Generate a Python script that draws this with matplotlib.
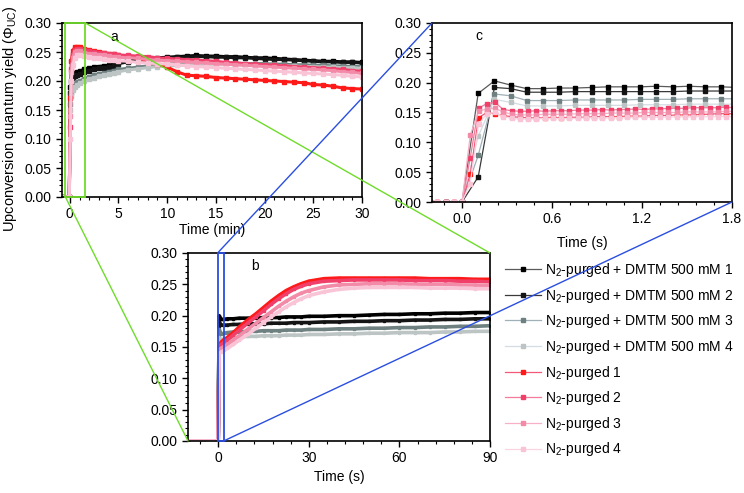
import numpy as np
import matplotlib
matplotlib.use('Agg')
import matplotlib.pyplot as plt
from matplotlib.patches import Rectangle, ConnectionPatch
from matplotlib.ticker import MultipleLocator, FormatStrFormatter

plt.rcParams['font.family'] = ['Liberation Sans', 'DejaVu Sans']
plt.rcParams['mathtext.default'] = 'regular'
plt.rcParams['font.size'] = 10

# ---------------- data ----------------
labels = [
    "N$_2$-purged + DMTM 500 mM 1",
    "N$_2$-purged + DMTM 500 mM 2",
    "N$_2$-purged + DMTM 500 mM 3",
    "N$_2$-purged + DMTM 500 mM 4",
    "N$_2$-purged 1",
    "N$_2$-purged 2",
    "N$_2$-purged 3",
    "N$_2$-purged 4",
]

# panel a: time in minutes
t_a = [-0.8, -0.05, 0.05, 0.15, 0.3, 0.5, 0.75, 1, 1.5, 2,
       2.5, 3, 3.5, 4, 4.5, 5, 6, 7, 8, 9,
       10, 11, 12, 13, 14, 15, 16, 17, 18, 19,
       20, 21, 22, 23, 24, 25, 26, 27, 28, 29, 30]
ya_dmtm1 = [0, 0, 0.19, 0.20, 0.21, 0.213, 0.215, 0.217, 0.22, 0.222,
            0.224, 0.225, 0.226, 0.227, 0.228, 0.232, 0.235, 0.236, 0.238, 0.240,
            0.241, 0.242, 0.243, 0.244, 0.243, 0.243, 0.242, 0.242, 0.241, 0.240,
            0.240, 0.239, 0.238, 0.237, 0.236, 0.235, 0.234, 0.234, 0.233, 0.233, 0.232]
ya_dmtm2 = [0, 0, 0.18, 0.19, 0.205, 0.208, 0.21, 0.212, 0.215, 0.218,
            0.220, 0.222, 0.223, 0.224, 0.226, 0.230, 0.233, 0.235, 0.237, 0.238,
            0.240, 0.241, 0.241, 0.242, 0.242, 0.241, 0.241, 0.240, 0.240, 0.239,
            0.238, 0.237, 0.237, 0.236, 0.235, 0.234, 0.233, 0.233, 0.232, 0.232, 0.231]
ya_dmtm3 = [0, 0, 0.16, 0.18, 0.19, 0.195, 0.198, 0.20, 0.204, 0.207,
            0.210, 0.212, 0.214, 0.216, 0.218, 0.220, 0.222, 0.224, 0.226, 0.228,
            0.229, 0.230, 0.231, 0.231, 0.232, 0.232, 0.231, 0.231, 0.230, 0.230,
            0.230, 0.229, 0.229, 0.228, 0.228, 0.227, 0.227, 0.226, 0.226, 0.225, 0.225]
ya_dmtm4 = [0, 0, 0.15, 0.175, 0.185, 0.19, 0.193, 0.196, 0.20, 0.203,
            0.206, 0.208, 0.210, 0.212, 0.214, 0.216, 0.219, 0.221, 0.223, 0.225,
            0.226, 0.227, 0.228, 0.228, 0.229, 0.229, 0.229, 0.228, 0.228, 0.228,
            0.227, 0.227, 0.226, 0.226, 0.225, 0.225, 0.224, 0.224, 0.223, 0.223, 0.222]
ya_n2_1 = [0, 0, 0.17, 0.235, 0.252, 0.258, 0.259, 0.258, 0.256, 0.253,
           0.252, 0.250, 0.249, 0.247, 0.246, 0.244, 0.242, 0.239, 0.234, 0.229,
           0.224, 0.216, 0.210, 0.209, 0.208, 0.206, 0.205, 0.204, 0.203, 0.202,
           0.201, 0.200, 0.199, 0.198, 0.197, 0.194, 0.193, 0.191, 0.188, 0.187, 0.186]
ya_n2_2 = [0, 0, 0.12, 0.22, 0.245, 0.254, 0.256, 0.255, 0.253, 0.251,
           0.250, 0.249, 0.248, 0.247, 0.246, 0.245, 0.244, 0.243, 0.242, 0.240,
           0.239, 0.238, 0.237, 0.236, 0.235, 0.234, 0.232, 0.231, 0.230, 0.229,
           0.228, 0.227, 0.226, 0.225, 0.224, 0.223, 0.222, 0.221, 0.220, 0.218, 0.217]
ya_n2_3 = [0, 0, 0.14, 0.215, 0.24, 0.25, 0.252, 0.251, 0.249, 0.247,
           0.246, 0.245, 0.244, 0.243, 0.242, 0.241, 0.240, 0.239, 0.237, 0.236,
           0.235, 0.234, 0.233, 0.232, 0.231, 0.230, 0.229, 0.228, 0.227, 0.226,
           0.225, 0.224, 0.223, 0.222, 0.221, 0.220, 0.219, 0.218, 0.216, 0.215, 0.213]
ya_n2_4 = [0, 0, 0.10, 0.20, 0.228, 0.24, 0.244, 0.244, 0.243, 0.241,
           0.240, 0.239, 0.238, 0.237, 0.236, 0.235, 0.234, 0.232, 0.231, 0.230,
           0.229, 0.228, 0.226, 0.225, 0.224, 0.223, 0.222, 0.221, 0.220, 0.219,
           0.218, 0.217, 0.216, 0.215, 0.214, 0.213, 0.212, 0.211, 0.210, 0.208, 0.207]

# panel b: time in seconds
t_b = [-10, -5, -0.5, 0, 0.3, 1, 2, 3, 5, 7,
       10, 12.5, 15, 17.5, 20, 22.5, 25, 27.5, 30, 35,
       40, 45, 50, 55, 60, 65, 70, 75, 80, 85, 90]
yb_dmtm1 = [0, 0, 0, 0, 0.20, 0.194, 0.194, 0.195, 0.195, 0.196,
            0.196, 0.196, 0.197, 0.197, 0.197, 0.198, 0.198, 0.198, 0.199, 0.199,
            0.200, 0.200, 0.201, 0.202, 0.202, 0.203, 0.203, 0.204, 0.204, 0.205, 0.205]
yb_dmtm2 = [0, 0, 0, 0, 0.19, 0.185, 0.185, 0.185, 0.186, 0.186,
            0.187, 0.187, 0.187, 0.188, 0.188, 0.188, 0.189, 0.189, 0.189, 0.190,
            0.190, 0.191, 0.191, 0.192, 0.192, 0.193, 0.193, 0.194, 0.194, 0.195, 0.195]
yb_dmtm3 = [0, 0, 0, 0, 0.178, 0.171, 0.172, 0.173, 0.174, 0.174,
            0.175, 0.175, 0.176, 0.176, 0.176, 0.177, 0.177, 0.177, 0.178, 0.178,
            0.179, 0.179, 0.180, 0.180, 0.181, 0.181, 0.182, 0.182, 0.183, 0.183, 0.184]
yb_dmtm4 = [0, 0, 0, 0, 0.165, 0.162, 0.163, 0.164, 0.165, 0.166,
            0.167, 0.167, 0.168, 0.168, 0.168, 0.169, 0.169, 0.169, 0.170, 0.170,
            0.171, 0.171, 0.172, 0.172, 0.173, 0.173, 0.173, 0.174, 0.174, 0.175, 0.175]
yb_n2_1 = [0, 0, 0, 0, 0.150, 0.158, 0.162, 0.165, 0.173, 0.182,
           0.194, 0.203, 0.213, 0.223, 0.232, 0.240, 0.246, 0.251, 0.255, 0.259,
           0.260, 0.260, 0.260, 0.260, 0.260, 0.260, 0.259, 0.259, 0.259, 0.258, 0.258]
yb_n2_2 = [0, 0, 0, 0, 0.152, 0.154, 0.158, 0.161, 0.169, 0.177,
           0.189, 0.198, 0.208, 0.218, 0.227, 0.235, 0.242, 0.247, 0.251, 0.255,
           0.256, 0.257, 0.257, 0.257, 0.257, 0.256, 0.256, 0.256, 0.255, 0.255, 0.254]
yb_n2_3 = [0, 0, 0, 0, 0.146, 0.148, 0.151, 0.154, 0.161, 0.168,
           0.179, 0.188, 0.197, 0.206, 0.215, 0.223, 0.230, 0.236, 0.240, 0.246,
           0.249, 0.250, 0.251, 0.251, 0.251, 0.250, 0.250, 0.250, 0.249, 0.249, 0.248]
yb_n2_4 = [0, 0, 0, 0, 0.140, 0.142, 0.145, 0.148, 0.154, 0.161,
           0.171, 0.180, 0.189, 0.198, 0.206, 0.214, 0.221, 0.227, 0.232, 0.238,
           0.242, 0.244, 0.245, 0.245, 0.245, 0.245, 0.244, 0.244, 0.244, 0.243, 0.243]

# panel c: time in seconds (DMTM samples every ~0.108 s, N2 every ~0.055 s)
tc_dmtm = [-0.216, -0.108, 0.0, 0.108, 0.216, 0.324, 0.432, 0.54, 0.648, 0.756,
           0.864, 0.972, 1.08, 1.188, 1.296, 1.404, 1.512, 1.62, 1.728, 1.836]
yc_dmtm1 = [0, 0, 0, 0.182, 0.203, 0.196, 0.190, 0.190, 0.191, 0.191,
            0.192, 0.193, 0.193, 0.193, 0.194, 0.193, 0.194, 0.193, 0.193, 0.192]
yc_dmtm2 = [0, 0, 0, 0.042, 0.192, 0.190, 0.184, 0.184, 0.184, 0.185,
            0.185, 0.185, 0.185, 0.185, 0.185, 0.185, 0.186, 0.186, 0.186, 0.186]
yc_dmtm3 = [0, 0, 0, 0.078, 0.181, 0.178, 0.170, 0.170, 0.170, 0.171,
            0.171, 0.171, 0.171, 0.172, 0.172, 0.172, 0.173, 0.173, 0.173, 0.173]
yc_dmtm4 = [0, 0, 0, 0.110, 0.172, 0.167, 0.161, 0.161, 0.161, 0.162,
            0.162, 0.162, 0.162, 0.163, 0.163, 0.163, 0.164, 0.164, 0.164, 0.164]
tc_n2 = [-0.165, -0.11, -0.055, 0.0, 0.055, 0.11, 0.165, 0.22, 0.275, 0.33,
         0.385, 0.44, 0.495, 0.55, 0.605, 0.66, 0.715, 0.77, 0.825, 0.88,
         0.935, 0.99, 1.045, 1.1, 1.155, 1.21, 1.265, 1.32, 1.375, 1.43,
         1.485, 1.54, 1.595, 1.65, 1.705, 1.76, 1.815]
yc_n2_1 = [0, 0, 0, 0, 0.047, 0.141, 0.150, 0.148, 0.145, 0.143,
           0.142, 0.141, 0.141, 0.141, 0.142, 0.141, 0.142, 0.142, 0.142, 0.143,
           0.143, 0.143, 0.143, 0.144, 0.144, 0.144, 0.145, 0.145, 0.145, 0.146,
           0.146, 0.146, 0.147, 0.147, 0.148, 0.148, 0.148]
yc_n2_2 = [0, 0, 0, 0, 0.074, 0.157, 0.165, 0.167, 0.155, 0.153,
           0.152, 0.152, 0.153, 0.152, 0.153, 0.153, 0.153, 0.154, 0.154, 0.154,
           0.155, 0.154, 0.155, 0.155, 0.156, 0.155, 0.156, 0.156, 0.157, 0.157,
           0.157, 0.158, 0.158, 0.158, 0.158, 0.159, 0.158]
yc_n2_3 = [0, 0, 0, 0, 0.112, 0.152, 0.156, 0.157, 0.151, 0.147,
           0.146, 0.146, 0.146, 0.147, 0.147, 0.147, 0.147, 0.148, 0.148, 0.148,
           0.148, 0.149, 0.149, 0.149, 0.149, 0.150, 0.150, 0.150, 0.150, 0.150,
           0.151, 0.151, 0.151, 0.151, 0.151, 0.152, 0.152]
yc_n2_4 = [0, 0, 0, 0, 0.031, 0.130, 0.148, 0.150, 0.143, 0.140,
           0.139, 0.139, 0.139, 0.140, 0.140, 0.140, 0.140, 0.140, 0.141, 0.141,
           0.141, 0.141, 0.141, 0.142, 0.142, 0.142, 0.142, 0.142, 0.142, 0.143,
           0.143, 0.143, 0.143, 0.143, 0.143, 0.143, 0.143]

# ---------------- styles ----------------
marker_colors = ['#000000', '#141414', '#6e8080', '#bcc4c4',
                 '#ff1a1a', '#f0406a', '#f28aa8', '#f8c4d6']
line_colors = ['#5a5a5a', '#3a3a3a', '#9fb0b8', '#d4dce4',
               '#f05a78', '#f27c9c', '#f7b0c6', '#fad4e2']
green = '#6fdc2a'
blue = '#2a4ee0'

data_a = [ya_dmtm1, ya_dmtm2, ya_dmtm3, ya_dmtm4, ya_n2_1, ya_n2_2, ya_n2_3, ya_n2_4]
data_b = [yb_dmtm1, yb_dmtm2, yb_dmtm3, yb_dmtm4, yb_n2_1, yb_n2_2, yb_n2_3, yb_n2_4]
data_c = [yc_dmtm1, yc_dmtm2, yc_dmtm3, yc_dmtm4, yc_n2_1, yc_n2_2, yc_n2_3, yc_n2_4]
times_c = [tc_dmtm] * 4 + [tc_n2] * 4

W, H = 744, 493
fig = plt.figure(figsize=(W / 100, H / 100), dpi=100)
ax_a = fig.add_axes([62 / W, 1 - 197 / H, 300 / W, 174 / H])
ax_c = fig.add_axes([432 / W, 1 - 202 / H, 300 / W, 179 / H])
ax_b = fig.add_axes([188 / W, 1 - 441 / H, 302 / W, 188 / H])


def style(ax):
    for s in ax.spines.values():
        s.set_linewidth(1.2)
    ax.tick_params(which='major', direction='out', length=4, width=1, labelsize=10,
                   top=False, right=False)
    ax.tick_params(which='minor', direction='out', length=2.5, width=0.8,
                   top=False, right=False)
    ax.set_ylim(0, 0.30)
    ax.yaxis.set_major_locator(MultipleLocator(0.05))
    ax.yaxis.set_minor_locator(MultipleLocator(0.01))
    ax.yaxis.set_major_formatter(FormatStrFormatter('%.2f'))


for i in range(8):
    ax_a.plot(t_a, data_a[i], color=marker_colors[i], lw=2.2, marker='s', ms=2.2,
              mec=marker_colors[i], mfc=marker_colors[i])
    ax_b.plot(t_b, data_b[i], color=marker_colors[i], lw=2.6, marker='s', ms=2.0,
              mec=marker_colors[i], mfc=marker_colors[i])

handles = []
for i in range(8):
    h, = ax_c.plot(times_c[i], data_c[i], color=line_colors[i], lw=0.9, marker='s',
                   ms=3, mec=marker_colors[i], mfc=marker_colors[i], label=labels[i])
    handles.append(h)

style(ax_a)
ax_a.set_xlim(-0.8, 30)
ax_a.xaxis.set_major_locator(MultipleLocator(5))
ax_a.xaxis.set_minor_locator(MultipleLocator(1))
ax_a.set_xlabel('Time (min)', labelpad=1)
ax_a.set_ylabel('Upconversion quantum yield (\u03a6$_{UC}$)', fontsize=10.5)
ax_a.yaxis.set_label_coords(-0.142, 0.45)
ax_a.text(4.6, 0.276, 'a', fontsize=10, ha='center', va='center')

style(ax_b)
ax_b.set_xlim(-10, 90)
ax_b.xaxis.set_major_locator(MultipleLocator(30))
ax_b.xaxis.set_minor_locator(MultipleLocator(6))
ax_b.set_xlabel('Time (s)', labelpad=3)
ax_b.text(12.3, 0.279, 'b', fontsize=10, ha='center', va='center')

style(ax_c)
ax_c.set_xlim(-0.2, 1.8)
ax_c.xaxis.set_major_locator(MultipleLocator(0.6))
ax_c.xaxis.set_minor_locator(MultipleLocator(0.12))
ax_c.xaxis.set_major_formatter(FormatStrFormatter('%.1f'))
ax_c.set_xlabel('Time (s)', labelpad=7)
ax_c.text(0.113, 0.278, 'c', fontsize=10, ha='center', va='center')

# zoom rectangles
ax_a.add_patch(Rectangle((-0.45, 0), 2.05, 0.30, fill=False, ec=green, lw=1.3,
                         clip_on=False, zorder=5))
ax_b.add_patch(Rectangle((-0.2, 0), 2.0, 0.30, fill=False, ec=blue, lw=1.3,
                         clip_on=False, zorder=5))

# connector lines
for xyA, xyB in [((1.6, 0.30), (90, 0.30)), ((-0.45, 0.0), (-10, 0.0))]:
    con = ConnectionPatch(xyA=xyA, coordsA=ax_a.transData, xyB=xyB, coordsB=ax_b.transData,
                          color=green, lw=1.0, zorder=10)
    fig.add_artist(con)
for xyA, xyB in [((-0.2, 0.30), (-0.2, 0.30)), ((1.8, 0.0), (1.8, 0.0))]:
    con = ConnectionPatch(xyA=xyA, coordsA=ax_b.transData, xyB=xyB, coordsB=ax_c.transData,
                          color=blue, lw=1.0, zorder=10)
    fig.add_artist(con)

fig.legend(handles, labels, loc='upper left', bbox_to_anchor=(505 / W, 1 - 261 / H),
           frameon=False, fontsize=10, handlelength=2.6, handletextpad=0.3,
           labelspacing=0.55, borderpad=0, borderaxespad=0)

fig.savefig('out.png', dpi=100, facecolor='white')
